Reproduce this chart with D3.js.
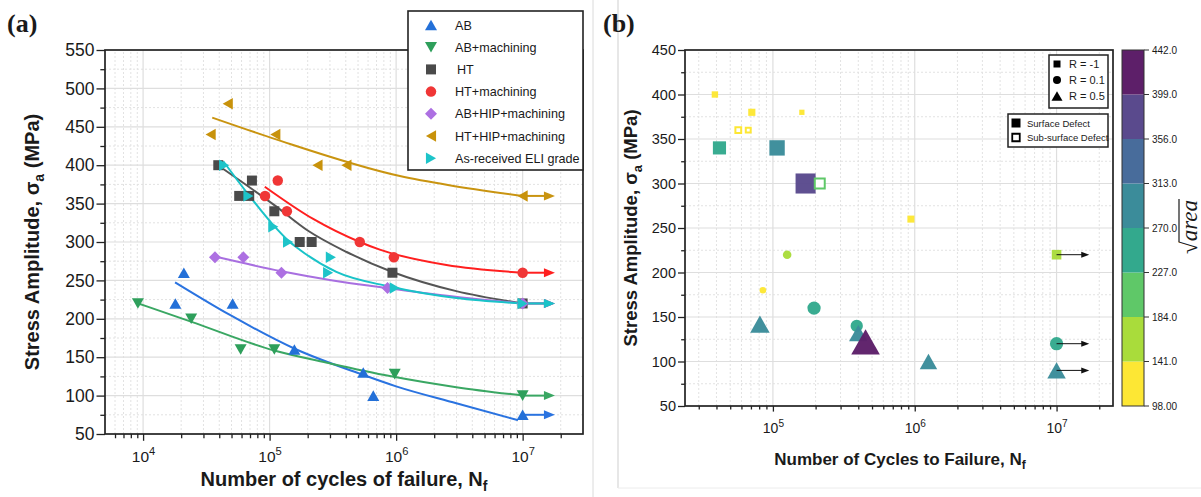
<!DOCTYPE html>
<html>
<head>
<meta charset="utf-8">
<script src="https://cdn.jsdelivr.net/npm/d3@7"></script>
<style>
  body { margin: 0; background: #fff; }
  svg { display: block; }
  text { fill: #1a1a1a; }
</style>
</head>
<body>
<svg id="chart" width="1201" height="497"></svg>
<script>
// ================= Panel (a): S-N curves by surface condition =================
const seriesNames = ["AB", "AB+machining", "HT", "HT+machining",
  "AB+HIP+machining", "HT+HIP+machining", "As-received ELI grade"];

const abCycles = [1.8e4, 2.1e4, 5.1e4, 1.57e5, 5.5e5, 6.6e5, 1e7];
const abStress = [220, 260, 220, 160, 130, 100, 75];
const abMachCycles = [9.1e3, 2.4e4, 5.9e4, 1.09e5, 9.75e5, 1e7];
const abMachStress = [220, 200, 160, 160, 128, 100];
const htCycles = [3.93e4, 5.75e4, 6.9e4, 7.25e4, 1.09e5, 1.73e5, 2.15e5, 9.35e5, 1e7];
const htStress = [400, 360, 360, 380, 340, 300, 300, 260, 220];
const htMachCycles = [9.2e4, 1.16e5, 1.37e5, 5.16e5, 9.6e5, 1e7];
const htMachStress = [360, 380, 340, 300, 280, 260];
const abHipCycles = [3.7e4, 6.2e4, 1.24e5, 8.55e5, 1e7];
const abHipStress = [280, 280, 260, 240, 220];
const htHipCycles = [3.42e4, 4.67e4, 1.11e5, 2.39e5, 4.05e5, 1e7];
const htHipStress = [440, 480, 440, 400, 400, 360];
const eliCycles = [4.37e4, 6.8e4, 1.07e5, 1.4e5, 2.9e5, 3.05e5, 9.75e5, 1e7];
const eliStress = [400, 360, 320, 300, 260, 280, 240, 220];

// fitted S-N trend curves (cycles, stress amplitude)
const abFitCycles = [1.79e4, 4.86e4, 1.58e5, 5.48e5, 1e6, 2.99e6, 9.18e6];
const abFitStress = [247.5, 205, 161, 127, 112, 90, 68];
const abMachFitCycles = [9.18e3, 2.42e4, 1.07e5, 2.99e5, 8.91e5, 2.99e6, 1e7];
const abMachFitStress = [220, 196, 159, 142, 125.5, 111, 100];
const htFitCycles = [4.06e4, 1.09e5, 2e5, 4.06e5, 9.35e5, 2.99e6, 1e7];
const htFitStress = [398, 348, 315, 287, 261, 236, 220];
const htMachFitCycles = [9.16e4, 2.21e5, 5.16e5, 7.43e5, 2.5e6, 1e7];
const htMachFitStress = [372, 330, 300, 290, 270, 260];
const abHipFitCycles = [3.7e4, 1.24e5, 3.16e5, 8.55e5, 3.16e6, 1e7];
const abHipFitStress = [281, 262, 250, 240, 228, 220];
const htHipFitCycles = [3.52e4, 1.11e5, 1.07e6, 2.63e6, 1e7];
const htHipFitStress = [462, 434, 386, 374, 360];
const eliFitCycles = [4.31e4, 6.78e4, 1.07e5, 1.4e5, 1.73e5, 3.37e5, 8.91e5, 2.99e6, 1e7];
const eliFitStress = [405, 362, 322, 302, 290, 261, 242, 227, 220];

// run-out arrows extend from the last specimen to this cycle count
const runoutArrowEndA = 1.8e7;

const yTicksA = [50, 100, 150, 200, 250, 300, 350, 400, 450, 500, 550];
const xTicksA = [1e4, 1e5, 1e6, 1e7];

// styling per series
const seriesColors = ["#2370d8", "#2e9f5b", "#4a4a4a", "#f03636", "#ad70e2", "#c8920b", "#1dc4c9"];
const lineColors   = ["#2a73e0", "#3aa763", "#555555", "#ff1f1f", "#a86fe0", "#c99410", "#19c3c8"];
const seriesShapes = ["up", "down", "square", "circle", "diamond", "left", "right"];
const shapeSizeA = { up: 12, down: 12, square: 10, circle: 10.5, diamond: 12, left: 11.5, right: 11.5 };

// ================= Panel (b): defect-size coded fatigue results =================
const rNeg1Cycles = [3.9e4, 7.1e4, 1.6e5, 5.7e4, 6.7e4, 4.2e4, 1.07e5, 1.7e5, 2.14e5, 9.4e5, 1e7];
const rNeg1Stress = [400, 380, 380, 360, 360, 340, 340, 300, 300, 260, 220];
const rNeg1SqrtArea = [125, 138, 106, 115, 100, 240, 278, 358, 186, 136, 180];
const rNeg1Defect = ["surface", "surface", "surface", "sub", "sub", "surface", "surface", "surface", "sub", "surface", "surface"];

const r01Cycles = [1.26e5, 8.5e4, 1.95e5, 3.9e5, 1e7];
const r01Stress = [220, 180, 160, 140, 120];
const r01SqrtArea = [170, 135, 254, 237, 254];

const r05Cycles = [8.1e4, 4.0e5, 4.5e5, 1.25e6, 1e7];
const r05Stress = [142, 132, 122, 100, 90];
const r05SqrtArea = [305, 290, 440, 275, 290];

const runoutArrowEndB = 1.7e7;
const sqrtAreaBreaks = [98, 141, 184, 227, 270, 313, 356, 399, 442];
const sqrtAreaLabels = ["98.00", "141.0", "184.0", "227.0", "270.0", "313.0", "356.0", "399.0", "442.0"];
const binColors = ["#fde734", "#a9dc3b", "#5fc868", "#33a98d", "#3b8c9a", "#486c9b", "#5a4a8d", "#5d1f69"];
const yTicksB = [50, 100, 150, 200, 250, 300, 350, 400, 450];
const xTicksB = [1e5, 1e6, 1e7];

// ---------------------------------------------------------------------------
const svg = d3.select("#chart");
const SANS = '"Liberation Sans", Arial, sans-serif';
const SERIF = '"Liberation Serif", "Times New Roman", serif';
svg.style("font-family", SANS);

// thin panel borders
svg.append("line").attr("x1", 593).attr("x2", 593).attr("y1", 0).attr("y2", 497)
  .attr("stroke", "#dadada").attr("stroke-width", 1);
svg.append("line").attr("x1", 618).attr("x2", 618).attr("y1", 0).attr("y2", 488)
  .attr("stroke", "#cfcfcf").attr("stroke-width", 1);
svg.append("line").attr("x1", 618).attr("x2", 1201).attr("y1", 488).attr("y2", 488)
  .attr("stroke", "#ececec").attr("stroke-width", 1);

// marker outline centred on its bounding box
function markerPath(shape, s) {
  const h = s / 2, t = s * 0.44;
  switch (shape) {
    case "square": return `M${-h},${-h}h${s}v${s}h${-s}Z`;
    case "circle": return `M${h},0A${h},${h} 0 1,1 ${-h},0A${h},${h} 0 1,1 ${h},0Z`;
    case "up": return `M0,${-t}L${h},${t}L${-h},${t}Z`;
    case "down": return `M0,${t}L${h},${-t}L${-h},${-t}Z`;
    case "left": return `M${-t},0L${t},${-h}L${t},${h}Z`;
    case "right": return `M${t},0L${-t},${-h}L${-t},${h}Z`;
    case "diamond": return `M0,${-h}L${h},0L0,${h}L${-h},0Z`;
  }
}

function minorValues(lo, hi) {
  const out = [];
  for (let d = Math.floor(Math.log10(lo)); d <= Math.ceil(Math.log10(hi)); d++) {
    for (let k = 2; k <= 9; k++) {
      const v = k * Math.pow(10, d);
      if (v > lo * 1.0001 && v < hi * 0.9999) out.push(v);
    }
  }
  return out;
}

function drawFrame(g, x, y, o) {
  const [x0, x1] = x.range();
  const [y0, y1] = y.range();
  const [ylo, yhi] = y.domain();
  const [xlo, xhi] = x.domain();
  const yMinor = d3.range(ylo + 25, yhi, 50);
  const xMinor = minorValues(xlo, xhi);
  const grid = g.append("g");
  yMinor.forEach(v => grid.append("line").attr("x1", x0).attr("x2", x1)
    .attr("y1", y(v)).attr("y2", y(v)).attr("stroke", "#e2e2e2").attr("stroke-dasharray", "2,2"));
  xMinor.forEach(v => grid.append("line").attr("y1", y0).attr("y2", y1)
    .attr("x1", x(v)).attr("x2", x(v)).attr("stroke", "#e2e2e2").attr("stroke-dasharray", "2,2"));
  o.yTicks.filter(v => v > ylo && v < yhi).forEach(v => grid.append("line").attr("x1", x0).attr("x2", x1)
    .attr("y1", y(v)).attr("y2", y(v)).attr("stroke", "#dedede").attr("stroke-width", 1.2));
  o.xTicks.forEach(v => grid.append("line").attr("y1", y0).attr("y2", y1)
    .attr("x1", x(v)).attr("x2", x(v)).attr("stroke", "#dedede").attr("stroke-width", 1.2));

  // y axis
  const ya = g.append("g").attr("transform", `translate(${x0},0)`)
    .call(d3.axisLeft(y).tickValues(o.yTicks).tickSize(o.tick).tickPadding(o.pad).tickFormat(d3.format("d")));
  const yam = g.append("g").attr("transform", `translate(${x0},0)`)
    .call(d3.axisLeft(y).tickValues(yMinor).tickSize(o.tick * 0.55).tickFormat(""));
  // x axis
  const xa = g.append("g").attr("transform", `translate(0,${y0})`)
    .call(d3.axisBottom(x).tickValues(o.xTicks).tickSize(o.tick * 0.8).tickFormat(""));
  const xam = g.append("g").attr("transform", `translate(0,${y0})`)
    .call(d3.axisBottom(x).tickValues(xMinor).tickSize(o.tick * 0.5).tickFormat(""));
  [ya, yam, xa, xam].forEach(a => {
    a.attr("font-family", null);
    a.select(".domain").remove();
    a.selectAll("line").attr("stroke", "#222").attr("stroke-width", 1.3);
  });
  ya.selectAll("text").attr("font-size", o.yFont).style("font-family", SANS).attr("fill", "#222");
  xa.selectAll(".tick text").each(function (d) {
    const t = d3.select(this).text(null).attr("y", o.xLabelDy).attr("dy", 0)
      .attr("font-size", o.xFont).style("font-family", SANS).attr("fill", "#222").attr("text-anchor", "middle");
    t.append("tspan").text("10");
    t.append("tspan").text(Math.round(Math.log10(d))).attr("font-size", o.xFont * 0.72).attr("dy", -o.xFont * 0.45);
  });
  g.append("rect").attr("x", x0).attr("y", y1).attr("width", x1 - x0).attr("height", y0 - y1)
    .attr("fill", "none").attr("stroke", "#222").attr("stroke-width", 1.7);
}

function arrow(g, x1, x2, yv, color, width, headLen, headHalf) {
  g.append("line").attr("x1", x1).attr("x2", x2 - headLen + 1).attr("y1", yv).attr("y2", yv)
    .attr("stroke", color).attr("stroke-width", width);
  g.append("path").attr("d", `M${x2},${yv}L${x2 - headLen},${yv - headHalf}L${x2 - headLen},${yv + headHalf}Z`)
    .attr("fill", color);
}

// ---------------- Panel (a) ----------------
const xA = d3.scaleLog().domain([5e3, 3e7]).range([105, 583]);
const yA = d3.scaleLinear().domain([50, 550]).range([434, 50]);
const gA = svg.append("g");
drawFrame(gA, xA, yA, { yTicks: yTicksA, xTicks: xTicksA, tick: 8.5, pad: 2, yFont: 17.5, xFont: 15.5, xLabelDy: 28 });

const seriesA = [
  [abCycles, abStress, abFitCycles, abFitStress],
  [abMachCycles, abMachStress, abMachFitCycles, abMachFitStress],
  [htCycles, htStress, htFitCycles, htFitStress],
  [htMachCycles, htMachStress, htMachFitCycles, htMachFitStress],
  [abHipCycles, abHipStress, abHipFitCycles, abHipFitStress],
  [htHipCycles, htHipStress, htHipFitCycles, htHipFitStress],
  [eliCycles, eliStress, eliFitCycles, eliFitStress]
].map((s, i) => ({
  name: seriesNames[i],
  points: s[0].map((n, j) => ({ n, s: s[1][j] })),
  fit: s[2].map((n, j) => [n, s[3][j]]),
  color: seriesColors[i], line: lineColors[i], shape: seriesShapes[i]
}));

const fitLine = d3.line().x(d => xA(d[0])).y(d => yA(d[1])).curve(d3.curveMonotoneX);
const plotA = gA.append("g");
seriesA.forEach(sr => {
  plotA.append("path").attr("d", fitLine(sr.fit)).attr("fill", "none")
    .attr("stroke", sr.line).attr("stroke-width", 2);
});
seriesA.forEach(sr => {
  sr.points.filter(p => p.n >= 1e7).forEach(p =>
    arrow(plotA, xA(p.n), xA(runoutArrowEndA), yA(p.s), sr.line, 2, 11, 4.5));
});
seriesA.forEach(sr => {
  plotA.selectAll(null).data(sr.points).join("path")
    .attr("transform", d => `translate(${xA(d.n)},${yA(d.s)})`)
    .attr("d", markerPath(sr.shape, shapeSizeA[sr.shape]))
    .attr("fill", sr.color);
});

// legend (a)
const legA = gA.append("g");
legA.append("rect").attr("x", 408).attr("y", 11).attr("width", 175).attr("height", 159)
  .attr("fill", "#fff").attr("stroke", "#222").attr("stroke-width", 1.6);
seriesA.forEach((sr, i) => {
  const yy = 25 + i * 22.2;
  legA.append("path").attr("transform", `translate(431,${yy})`)
    .attr("d", markerPath(sr.shape, shapeSizeA[sr.shape])).attr("fill", sr.color);
  legA.append("text").attr("x", i === 2 ? 457 : 455).attr("y", yy + 4.6).attr("font-size", 12.6)
    .text(sr.name);
});

// titles (a)
svg.append("text").attr("x", 7).attr("y", 32).style("font-family", SERIF)
  .attr("font-weight", "bold").attr("font-size", 26).text("(a)");
const yTitleA = svg.append("text").attr("transform", "translate(39,242) rotate(-90)")
  .attr("text-anchor", "middle").attr("font-weight", "bold").attr("font-size", 20);
yTitleA.append("tspan").text("Stress Amplitude, σ");
yTitleA.append("tspan").text("a").attr("font-size", 14).attr("dy", 5);
yTitleA.append("tspan").text(" (MPa)").attr("dy", -5);
const xTitleA = svg.append("text").attr("x", 344).attr("y", 486)
  .attr("text-anchor", "middle").attr("font-weight", "bold").attr("font-size", 20);
xTitleA.append("tspan").text("Number of cycles of failure, N");
xTitleA.append("tspan").text("f").attr("font-size", 14).attr("dy", 5);

// ---------------- Panel (b) ----------------
const xB = d3.scaleLog().domain([2.4e4, 2.5e7]).range([685, 1113]);
const yB = d3.scaleLinear().domain([50, 450]).range([406, 50]);
const gB = svg.append("g");
drawFrame(gB, xB, yB, { yTicks: yTicksB, xTicks: xTicksB, tick: 7, pad: 2, yFont: 14.5, xFont: 14, xLabelDy: 27 });

const colorB = d3.scaleThreshold().domain(sqrtAreaBreaks.slice(1, -1)).range(binColors);
const sizeB = d3.scaleLinear().domain([98, 442]).range([4.8, 25]);
const shapeFactor = { square: 1, circle: 0.95, up: 1.15 };

const groupsB = [
  { shape: "square", cycles: rNeg1Cycles, stress: rNeg1Stress, area: rNeg1SqrtArea, defect: rNeg1Defect },
  { shape: "circle", cycles: r01Cycles, stress: r01Stress, area: r01SqrtArea },
  { shape: "up", cycles: r05Cycles, stress: r05Stress, area: r05SqrtArea }
];
const plotB = gB.append("g");
groupsB.forEach(gr => {
  const pts = gr.cycles.map((n, i) => ({
    n, s: gr.stress[i], a: gr.area[i], sub: gr.defect ? gr.defect[i] === "sub" : false
  }));
  pts.forEach(p => {
    const sz = sizeB(p.a) * shapeFactor[gr.shape];
    const m = plotB.append("path")
      .attr("transform", `translate(${xB(p.n)},${yB(p.s)})`);
    if (p.sub) {
      m.attr("d", markerPath(gr.shape, sz)).attr("fill", "#fff")
        .attr("stroke", colorB(p.a)).attr("stroke-width", 2);
    } else {
      m.attr("d", markerPath(gr.shape, sz)).attr("fill", colorB(p.a)).attr("fill-opacity", 0.97);
    }
  });
  pts.filter(p => p.n >= 1e7).forEach(p =>
    arrow(plotB, xB(p.n), xB(runoutArrowEndB), yB(p.s), "#111", 1, 8, 3));
});

// load-ratio legend
const legB1 = gB.append("g");
legB1.append("rect").attr("x", 1049).attr("y", 55).attr("width", 59).attr("height", 53)
  .attr("fill", "#fff").attr("stroke", "#222").attr("stroke-width", 1.5);
[["square", 7, "R = -1"], ["circle", 8, "R = 0.1"], ["up", 11, "R = 0.5"]].forEach((e, i) => {
  const yy = 64 + i * 16;
  legB1.append("path").attr("transform", `translate(1057,${yy})`).attr("d", markerPath(e[0], e[1])).attr("fill", "#000");
  legB1.append("text").attr("x", 1069).attr("y", yy + 4).attr("font-size", 11).text(e[2]);
});
// defect-location legend
const legB2 = gB.append("g");
legB2.append("rect").attr("x", 1008).attr("y", 114).attr("width", 100).attr("height", 33)
  .attr("fill", "#fff").attr("stroke", "#222").attr("stroke-width", 1.5);
legB2.append("path").attr("transform", "translate(1016,123)").attr("d", markerPath("square", 9)).attr("fill", "#000");
legB2.append("path").attr("transform", "translate(1016,137.5)").attr("d", markerPath("square", 7.5))
  .attr("fill", "#fff").attr("stroke", "#000").attr("stroke-width", 1.8);
legB2.append("text").attr("x", 1027).attr("y", 126.5).attr("font-size", 9.5).text("Surface Defect");
legB2.append("text").attr("x", 1027).attr("y", 141).attr("font-size", 9.5).text("Sub-surface Defect");

// colour bar for √area
const cbY = d3.scaleLinear().domain([98, 442]).range([406, 50]);
const cb = svg.append("g");
binColors.forEach((c, i) => {
  cb.append("rect").attr("x", 1122).attr("width", 22)
    .attr("y", cbY(sqrtAreaBreaks[i + 1])).attr("height", cbY(sqrtAreaBreaks[i]) - cbY(sqrtAreaBreaks[i + 1]))
    .attr("fill", c);
});
cb.append("rect").attr("x", 1122).attr("y", 50).attr("width", 22).attr("height", 356)
  .attr("fill", "none").attr("stroke", "#333").attr("stroke-width", 1);
sqrtAreaBreaks.forEach((v, i) => {
  cb.append("line").attr("x1", 1144).attr("x2", 1149).attr("y1", cbY(v)).attr("y2", cbY(v)).attr("stroke", "#333");
  cb.append("text").attr("x", 1152).attr("y", cbY(v) + 3.5).attr("font-size", 10).attr("fill", "#333").text(sqrtAreaLabels[i]);
});
const cbTitle = svg.append("g").attr("transform", "translate(1190,227) rotate(-90)");
const cbText = cbTitle.append("text").attr("text-anchor", "middle").attr("dy", "0.32em")
  .style("font-family", SERIF).attr("font-size", 23);
cbText.append("tspan").text("√");
cbText.append("tspan").text("area").style("font-style", "italic");
{
  const node = cbText.node();
  const L = node.getComputedTextLength();
  const ls = node.getSubStringLength(0, 1);
  cbTitle.append("line").attr("x1", -L / 2 + ls - 1).attr("x2", L / 2 + 1)
    .attr("y1", -11).attr("y2", -11).attr("stroke", "#1a1a1a").attr("stroke-width", 1.2);
}

// titles (b)
svg.append("text").attr("x", 603).attr("y", 32).style("font-family", SERIF)
  .attr("font-weight", "bold").attr("font-size", 26).text("(b)");
const yTitleB = svg.append("text").attr("transform", "translate(637,228) rotate(-90)")
  .attr("text-anchor", "middle").attr("font-weight", "bold").attr("font-size", 18.5);
yTitleB.append("tspan").text("Stress Amplitude, σ");
yTitleB.append("tspan").text("a").attr("font-size", 13).attr("dy", 5);
yTitleB.append("tspan").text(" (MPa)").attr("dy", -5);
const xTitleB = svg.append("text").attr("x", 900).attr("y", 465)
  .attr("text-anchor", "middle").attr("font-weight", "bold").attr("font-size", 17);
xTitleB.append("tspan").text("Number of Cycles to Failure, N");
xTitleB.append("tspan").text("f").attr("font-size", 12).attr("dy", 4);
</script>
</body>
</html>
